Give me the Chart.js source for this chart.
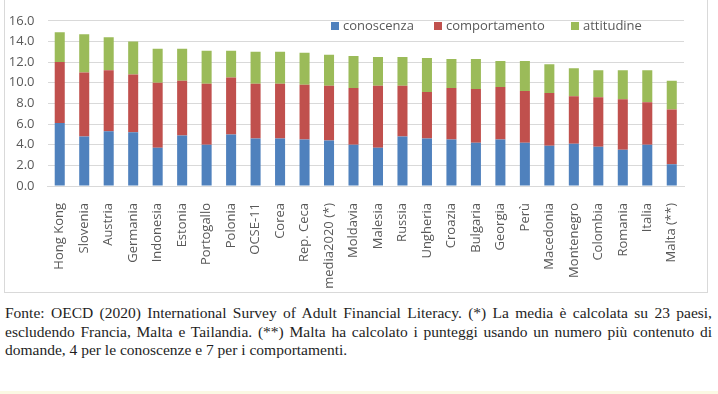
<!DOCTYPE html>
<html>
<head>
<meta charset="utf-8">
<script src="https://cdn.jsdelivr.net/npm/chart.js@4"></script>
<style>
  html, body { margin: 0; padding: 0; background: #fff; }
  body { width: 718px; height: 394px; position: relative; overflow: hidden; }
  #box { position: absolute; left: 4px; top: -1px; width: 704px; height: 294px; border: 1px solid #d9d9d9; box-sizing: border-box; }
  #grafico { position: absolute; left: 0; top: 0; }
  .leg { position: absolute; top: 16px; font: 13px "Open Sans", sans-serif; color: #595959; white-space: nowrap; }
  .leg span { display: inline-block; width: 8px; height: 8px; margin-right: 4px; vertical-align: 0px; }
  #nota { position: absolute; left: 5px; top: 304px; width: 707px; font: 15.5px "Liberation Serif", serif; line-height: 18.5px; color: #1e1e1e; }
  #nota .riga { text-align: justify; text-align-last: justify; white-space: nowrap; }
  #nota .ultima { text-align: left; white-space: nowrap; }
  #banda { position: absolute; left: 0; top: 391px; width: 718px; height: 3px; background: #fbf9e4; }
</style>
</head>
<body>
<div id="box"></div>
<canvas id="grafico" width="718" height="292"></canvas>
<div class="leg" style="left:331px"><span style="background:#4F81BD"></span>conoscenza</div>
<div class="leg" style="left:434px"><span style="background:#C0504D"></span>comportamento</div>
<div class="leg" style="left:571px"><span style="background:#9BBB59"></span>attitudine</div>
<div id="nota">
  <div class="riga">Fonte: OECD (2020) International Survey of Adult Financial Literacy. (*) La media è calcolata su 23 paesi,</div>
  <div class="riga">escludendo Francia, Malta e Tailandia. (**) Malta ha calcolato i punteggi usando un numero più contenuto di</div>
  <div class="ultima">domande, 4 per le conoscenze e 7 per i comportamenti.</div>
</div>
<div id="banda"></div>
<script>
// Dati (punteggi per componente)
const paesi = ["Hong Kong", "Slovenia", "Austria", "Germania", "Indonesia", "Estonia", "Portogallo", "Polonia",
  "OCSE-11", "Corea", "Rep. Ceca", "media2020 (*)", "Moldavia", "Malesia", "Russia", "Ungheria", "Croazia",
  "Bulgaria", "Georgia", "Perù", "Macedonia", "Montenegro", "Colombia", "Romania", "Italia", "Malta (**)"];
const conoscenza = [6.1, 4.8, 5.3, 5.2, 3.7, 4.9, 4.0, 5.0, 4.6, 4.6, 4.5, 4.4, 4.0, 3.7, 4.8, 4.6, 4.5,
  4.2, 4.5, 4.2, 3.9, 4.1, 3.8, 3.5, 4.0, 2.1];
const comportamento = [5.9, 6.2, 5.9, 5.6, 6.3, 5.3, 5.9, 5.5, 5.3, 5.3, 5.3, 5.3, 5.5, 6.0, 4.9, 4.5, 5.0,
  5.2, 5.1, 5.0, 5.1, 4.6, 4.8, 4.9, 4.1, 5.3];
const attitudine = [2.9, 3.7, 3.2, 3.2, 3.3, 3.1, 3.2, 2.6, 3.1, 3.1, 3.1, 3.0, 3.1, 2.8, 2.8, 3.3, 2.8,
  2.9, 2.5, 2.9, 2.8, 2.7, 2.6, 2.8, 3.1, 2.8];
const tickY = [0, 2, 4, 6, 8, 10, 12, 14, 16];

const grigio = "#595959";
const ctx = document.getElementById("grafico").getContext("2d");
new Chart(ctx, {
  type: "bar",
  data: {
    labels: paesi,
    datasets: [
      { label: "conoscenza", data: conoscenza, backgroundColor: "#4F81BD" },
      { label: "comportamento", data: comportamento, backgroundColor: "#C0504D" },
      { label: "attitudine", data: attitudine, backgroundColor: "#9BBB59" }
    ]
  },
  options: {
    responsive: false,
    animation: false,
    layout: { padding: { top: 8, right: 34, bottom: 0, left: 0 } },
    datasets: { bar: { barPercentage: 0.41, categoryPercentage: 1 } },
    plugins: { legend: { display: false }, tooltip: { enabled: false } },
    scales: {
      x: {
        stacked: true,
        grid: { display: false },
        border: { color: "#d9d9d9" },
        ticks: {
          autoSkip: false, minRotation: 90, maxRotation: 90, padding: 9,
          color: grigio, font: { family: "Open Sans", size: 13 }
        },
        afterFit: function (s) { s.height = 106; }
      },
      y: {
        stacked: true,
        min: 0, max: 16,
        afterBuildTicks: function (s) { s.ticks = tickY.map(v => ({ value: v })); },
        grid: { color: "#d9d9d9", drawTicks: false },
        border: { display: false },
        ticks: {
          padding: 13, color: grigio, font: { family: "Open Sans", size: 13 },
          callback: v => v.toFixed(1)
        },
        afterFit: function (s) { s.width = 47.5; }
      }
    }
  }
});
</script>
</body>
</html>
